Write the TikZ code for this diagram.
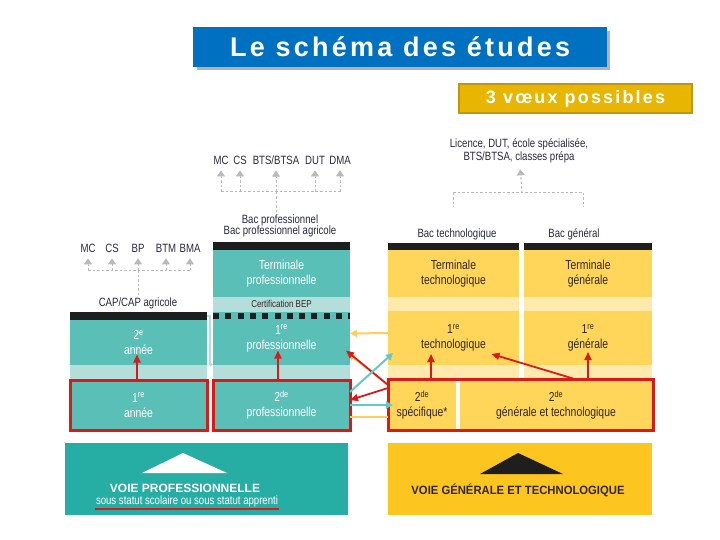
\documentclass[tikz,border=0pt]{standalone}
\usepackage{fontspec}
\usepackage{xcolor}
\usetikzlibrary{arrows.meta}

\setmainfont{Liberation Sans}
\newfontfamily\cond[FakeStretch=0.8]{Liberation Sans}
\newfontfamily\semicond[FakeStretch=0.94]{Liberation Sans}
\newfontfamily\wide[LetterSpace=12]{Liberation Sans}

\definecolor{titleblue}{RGB}{0,112,192}
\definecolor{goldc}{RGB}{232,182,0}
\definecolor{goldedge}{RGB}{190,150,20}
\definecolor{tealc}{RGB}{90,192,183}
\definecolor{tealband}{RGB}{180,222,218}
\definecolor{tealbanner}{RGB}{38,174,165}
\definecolor{tealarrowc}{RGB}{100,200,196}
\definecolor{yellowc}{RGB}{255,214,90}
\definecolor{yellowband}{RGB}{255,233,172}
\definecolor{yellowbanner}{RGB}{253,197,32}
\definecolor{yelarrowc}{RGB}{255,205,95}
\definecolor{redc}{RGB}{220,25,25}
\definecolor{darkc}{RGB}{50,40,35}
\definecolor{navyc}{RGB}{40,40,65}
\definecolor{barc}{RGB}{30,30,30}

\begin{document}
\begin{tikzpicture}[x=1pt, y=-1pt,
        pro/.style={fill=tealc, text=white, minimum width=137pt, inner sep=0pt, outer sep=0pt, anchor=north west, align=center, font=\cond\fontsize{13}{15}\selectfont},
        gen/.style={fill=yellowc, text=darkc, inner sep=0pt, outer sep=0pt, anchor=north west, align=center, font=\cond\fontsize{13}{15}\selectfont},
        outname/.style={text=navyc, inner sep=1pt, align=center, font=\cond\fontsize{12}{14}\selectfont},
        outlet/.style={draw=gray!55, line width=1pt, dash pattern=on 2.5pt off 2pt, shorten >=5pt, -{Triangle[length=6pt, width=8pt, fill=gray!55]}},
        dotline/.style={draw=gray!55, line width=1pt, dash pattern=on 2.5pt off 2pt},
        redarrow/.style={draw=redc, line width=1.8pt, -{Triangle[length=8pt, width=7pt]}},
        yelarrow/.style={draw=yelarrowc, line width=2pt, -{Triangle[length=7pt, width=7pt]}},
        tealarrow/.style={draw=tealarrowc, line width=2pt, -{Triangle[length=7pt, width=7pt]}},
        redframe/.style={draw=redc, line width=3pt}]
        \useasboundingbox (0,0) rectangle (720,540);

        \fill[gray!60] (197,31) rectangle (610,70);
        \node[fill=titleblue, text=white, minimum width=414pt, minimum height=40pt, inner sep=0pt, anchor=north west, font=\wide\bfseries\fontsize{27}{30}\selectfont] (title) at (193,27) {Le schéma des études};
        \node[fill=goldc, draw=goldedge, line width=2pt, text=white, minimum width=233pt, minimum height=29pt, inner sep=0pt, anchor=north west, font=\wide\bfseries\fontsize{18}{20}\selectfont] (voeux) at (458,83) {3 vœux possibles};

        \foreach \xx/\lab [count=\i] in {88/MC, 112/CS, 138/BP, 166/BTM, 190/BMA} {
          \node[outname] (capout-\i) at (\xx,248) {\lab};
          \coordinate (capj-\i) at (\xx,270);
          \draw[outlet] (capj-\i) -- (capout-\i);
        }
        \node[outname] (cap) at (138,303) {CAP/CAP agricole};
        \draw[dotline] (capj-1) -- (capj-5);
        \draw[dotline] (capj-3) -- (capj-3 |- cap.north);

        \foreach \xx/\lab [count=\i] in {221/MC, 240/CS, 276/BTS\slash BTSA, 315/DUT, 340/DMA} {
          \node[outname] (proout-\i) at (\xx,160) {\lab};
          \coordinate (proj-\i) at (\xx,192);
          \draw[outlet] (proj-\i) -- (proout-\i);
        }
        \node[outname] (bacpro) at (280,226) {Bac professionnel\\[-3pt]Bac professionnel agricole};
        \draw[dotline] (proj-1) -- (proj-5);
        \draw[dotline] (proj-3) -- (proj-3 |- bacpro.north);

        \node[outname] (sup) at (519,151) {Licence, DUT, école spécialisée,\\[-1pt]BTS/BTSA, classes prépa};
        \coordinate (supj) at (522,193);
        \coordinate (supl) at (453,193);
        \coordinate (supr) at (583,193);
        \draw[outlet] (supj) -- (sup);
        \draw[dotline] (supl) -- (supr);
        \draw[dotline] (supl) -- ++(0,14);
        \draw[dotline] (supr) -- ++(0,14);
        \node[outname] (bactech) at (457,234) {Bac technologique};
        \node[outname] (bacgen) at (574,234) {Bac général};

        \fill[barc] (70,312) rectangle (207,320);
        \node[pro, minimum height=45pt] (an2) at (70,320) {2\textsuperscript{e}\\année};
        \fill[tealband] (70,365) rectangle (207,380);
        \node[pro, minimum height=50pt, redframe] (an1) at (70,380) {1\textsuperscript{re}\\année};

        \fill[barc] (213,242) rectangle (350,250);
        \node[pro, minimum height=47pt] (tp) at (213,250) {Terminale\\professionnelle};
        \fill[tealband] (213,297) rectangle (350,312);
        \node[text=darkc, font=\cond\fontsize{10}{11}\selectfont] (bep) at (281.5,304) {Certification BEP};
        \node[pro, minimum height=53pt] (p1) at (213,312) {1\textsuperscript{re}\\professionnelle};
        \draw[barc, line width=6pt, dash pattern=on 6pt off 6.3pt] (213,316) -- (350,316);
        \fill[tealband] (213,365) rectangle (350,380);
        \node[pro, minimum height=50pt, redframe] (p2) at (213,380) {2\textsuperscript{de}\\professionnelle};
        \draw[tealband, line width=1.5pt, -{Triangle[length=3pt, width=4pt]}] ([yshift=4pt]an2.north east) -- ++(3,0) |- ([yshift=-26pt]p1.west);

        \fill[barc] (388,243) rectangle (519,250);
        \fill[barc] (524,243) rectangle (652,250);
        \node[gen, minimum width=131pt, minimum height=47pt] (tt) at (388,250) {Terminale\\technologique};
        \node[gen, minimum width=128pt, minimum height=47pt] (tg) at (524,250) {Terminale\\générale};
        \fill[yellowband] (388,297) rectangle (519,311);
        \fill[yellowband] (524,297) rectangle (652,311);
        \node[gen, minimum width=131pt, minimum height=54pt] (t1) at (388,311) {1\textsuperscript{re}\\technologique};
        \node[gen, minimum width=128pt, minimum height=54pt] (g1) at (524,311) {1\textsuperscript{re}\\générale};
        \fill[yellowband] (388,365) rectangle (519,380);
        \fill[yellowband] (524,365) rectangle (652,380);
        \node[gen, minimum width=68pt, minimum height=50pt] (spe) at (388,380) {2\textsuperscript{de}\\spécifique*};
        \node[gen, minimum width=192pt, minimum height=50pt] (gt) at (460,380) {2\textsuperscript{de}\\générale et technologique};
        \draw[redframe] (388.5,379.5) rectangle (653.5,430.5);

        \draw[redarrow] ([xshift=-1.5pt]an1.north) -- ([xshift=-1.5pt, yshift=-12pt]an2.center);
        \draw[redarrow] ([xshift=-3.5pt]p2.north) -- ([xshift=-3.5pt, yshift=-12pt]p1.center);
        \draw[redarrow] ([xshift=9pt]spe.north) -- ([xshift=9pt, yshift=26pt]spe.north);
        \draw[redarrow] (gt.north -| g1.center) -- ([yshift=-14pt]g1.center);
        \draw[redarrow] ([xshift=22pt]gt.north) -- ([xshift=38pt, yshift=-16pt]t1.center);
        \draw[yelarrow] ([yshift=5pt]t1.west) -- ([yshift=5pt]p1.east);
        \draw[yelarrow] ([xshift=-2pt, yshift=-3pt]spe.north west) -- ([xshift=-2pt, yshift=-15pt]p1.east);
        \draw[redarrow] ([yshift=-5pt]spe.north west) -- ([xshift=-4pt, yshift=-12pt]p1.east);
        \draw[tealarrow] ([yshift=13pt]p2.east) -- ([xshift=5pt, yshift=-15pt]t1.west);
        \draw[redarrow] ([yshift=-8pt]spe.north west) -- ([yshift=5pt]p2.east);
        \draw[tealarrow] (p2.east) -- ([xshift=5pt]spe.west);
        \draw[draw=yelarrowc, line width=2pt] ([yshift=-12pt]p2.east) -- ([yshift=-12pt]spe.west);

        \fill[tealbanner] (65,443) rectangle (348,515);
        \fill[white] (183,453) -- (142,473) -- (227,473) -- cycle;
        \node[text=white, font=\bfseries\fontsize{12}{14}\selectfont] (voiepro) at (185,488) {VOIE PROFESSIONNELLE};
        \node[text=white, inner sep=1pt, font=\cond\fontsize{12}{13}\selectfont] (statut) at (187,501) {sous statut scolaire ou sous statut apprenti};
        \draw[redc, line width=2pt] ([yshift=-1pt]statut.south west) -- ([yshift=-1pt]statut.south east);

        \fill[yellowbanner] (388,443) rectangle (652,515);
        \fill[barc] (518,453) -- (480,474) -- (563,474) -- cycle;
        \node[text=darkc, font=\semicond\bfseries\fontsize{12}{14}\selectfont] (voiegen) at (518,490) {VOIE GÉNÉRALE ET TECHNOLOGIQUE};
\end{tikzpicture}
\end{document}
